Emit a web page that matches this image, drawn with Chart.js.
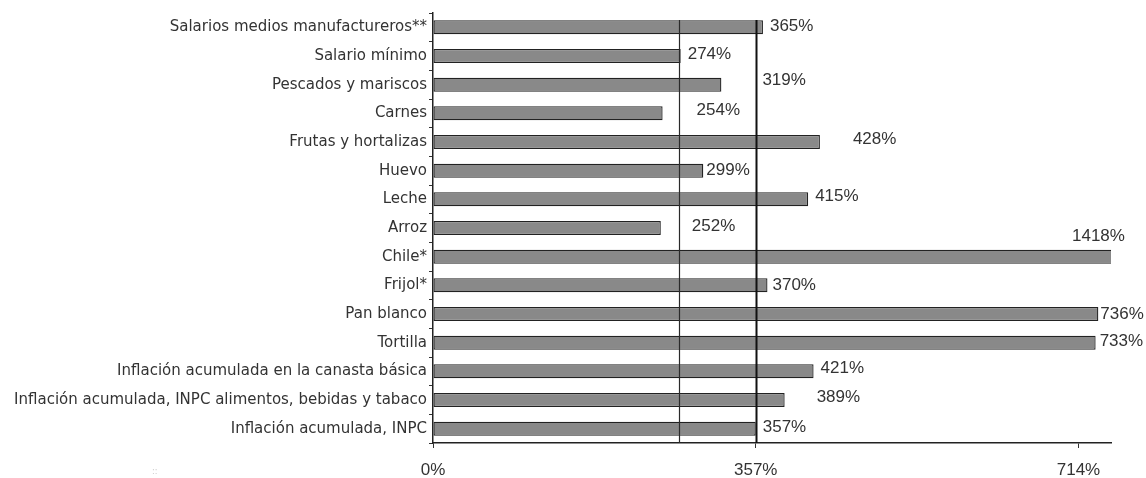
<!DOCTYPE html>
<html><head><meta charset="utf-8">
<script src="https://cdn.jsdelivr.net/npm/chart.js@4.4.1/dist/chart.umd.min.js"></script>
<style>html,body{margin:0;padding:0;background:#fff;}</style>
</head><body>
<canvas id="c" width="1146" height="478" style="width:1146px;height:478px;display:block"></canvas>
<script>
const categories = [
  'Salarios medios manufactureros**',
  'Salario mínimo',
  'Pescados y mariscos',
  'Carnes',
  'Frutas y hortalizas',
  'Huevo',
  'Leche',
  'Arroz',
  'Chile*',
  'Frijol*',
  'Pan blanco',
  'Tortilla',
  'Inflación acumulada en la canasta básica',
  'Inflación acumulada, INPC alimentos, bebidas y tabaco',
  'Inflación acumulada, INPC'
];
const values = [365, 274, 319, 254, 428, 299, 415, 252, 1418, 370, 736, 733, 421, 389, 357];
const tickValues = [0, 357, 714];
const axisMax = 750;
const referenceLines = [272, 357];
const labelNudgeX = [7, 7, 41, 34, 33, 3, 7, 31, -39, 5, 2, 4, 7, 32, 7];
const labelNudgeY = [-1, -2, -4, -3, -3, 0, -3, -2, -20, 0, 0, -1, -3, -3, -1];

const overlay = {
  id: 'overlay',
  afterDatasetsDraw(chart) {
    const ctx = chart.ctx;
    const xs = chart.scales.x;
    const area = chart.chartArea;
    const meta = chart.getDatasetMeta(0);
    ctx.save();
    referenceLines.forEach((v, i) => {
      const x = Math.round(xs.getPixelForValue(v)) + 0.5;
      ctx.beginPath();
      ctx.strokeStyle = i === 0 ? '#2a2a2a' : '#111';
      ctx.lineWidth = i === 0 ? 1.2 : 2;
      ctx.moveTo(x, area.top + 7);
      ctx.lineTo(x, area.bottom);
      ctx.stroke();
    });
    ctx.font = '17px "Liberation Sans", Arial, sans-serif';
    ctx.fillStyle = '#333';
    ctx.textAlign = 'left';
    ctx.textBaseline = 'middle';
    meta.data.forEach((bar, i) => {
      const end = Math.min(bar.x, area.right);
      ctx.fillText(values[i] + '%', end + labelNudgeX[i], bar.y + labelNudgeY[i]);
    });
    ctx.font = '8px "DejaVu Sans", sans-serif';
    ctx.fillStyle = '#c8c8c8';
    ctx.fillText('::', 152, 472);
    ctx.restore();
  }
};

new Chart(document.getElementById('c'), {
  type: 'bar',
  data: {
    labels: categories,
    datasets: [{
      data: values,
      backgroundColor: '#898989',
      borderColor: '#222',
      borderWidth: 1.3,
      borderSkipped: false,
      barPercentage: 0.98,
      categoryPercentage: 0.5,
      clip: {left: 2, top: 2, right: 0, bottom: 2}
    }]
  },
  options: {
    indexAxis: 'y',
    responsive: false,
    animation: false,
    devicePixelRatio: 1,
    layout: {padding: {top: 13, right: 35, left: 0, bottom: 0}},
    plugins: {legend: {display: false}, tooltip: {enabled: false}},
    scales: {
      x: {
        type: 'linear',
        min: 0,
        max: axisMax,
        afterBuildTicks: s => { s.ticks = tickValues.map(v => ({value: v})); },
        afterFit: s => { s.height = 35; },
        ticks: {
          callback: v => v + '%',
          font: {family: '"Liberation Sans", Arial, sans-serif', size: 17},
          color: '#333',
          padding: 12,
          maxRotation: 0
        },
        grid: {drawOnChartArea: false, drawTicks: true, tickLength: 5, color: '#333'},
        border: {display: true, color: '#222', width: 1.5}
      },
      y: {
        afterFit: s => { s.width = 433; },
        ticks: {
          font: {family: '"DejaVu Sans", Verdana, sans-serif', size: 15},
          color: '#333',
          padding: 2,
          autoSkip: false
        },
        grid: {drawOnChartArea: false, drawTicks: true, tickLength: 4, color: '#333', offset: true},
        border: {display: true, color: '#222', width: 1.5}
      }
    }
  },
  plugins: [overlay]
});
</script>
</body></html>
